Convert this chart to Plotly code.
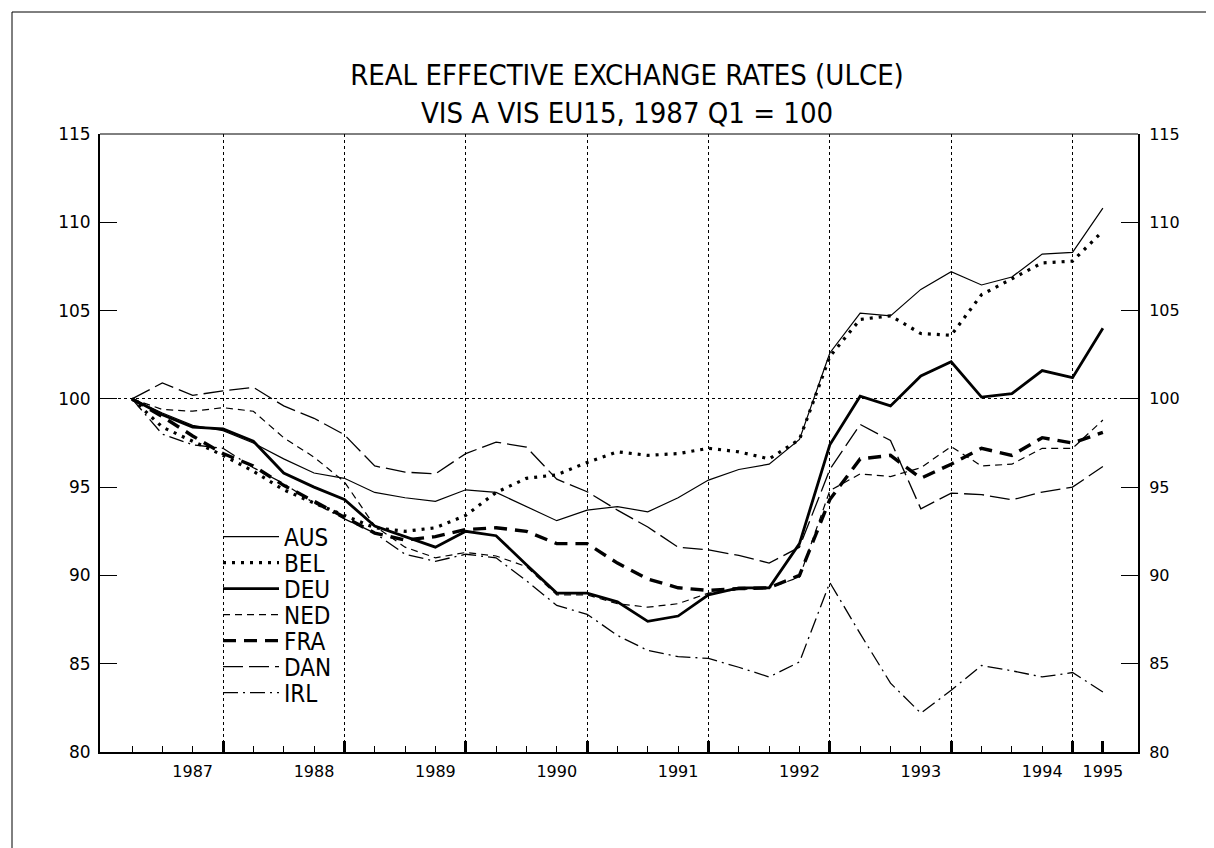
import plotly.graph_objects as go

# quarter index: 0 = 1987 Q1 ... 32 = 1995 Q1
quarters = list(range(33))

AUS = [100, 99.2, 98.5, 98.2, 97.5, 96.6, 95.8, 95.5, 94.7, 94.4, 94.2, 94.85, 94.7, 93.9, 93.1, 93.7,
       93.9, 93.6, 94.4, 95.4, 96.0, 96.3, 97.7, 102.6, 104.85, 104.7, 106.2, 107.2, 106.45, 106.9, 108.2, 108.3, 110.8]
BEL = [100, 98.4, 97.6, 96.8, 95.9, 94.85, 94.1, 93.4, 92.7, 92.5, 92.7, 93.4, 94.7, 95.5, 95.7, 96.4,
       97.0, 96.8, 96.9, 97.2, 97.0, 96.6, 97.7, 102.4, 104.5, 104.7, 103.7, 103.6, 105.9, 106.8, 107.7, 107.8, 109.5]
DEU = [100, 99.1, 98.4, 98.3, 97.6, 95.8, 95.0, 94.3, 92.8, 92.2, 91.6, 92.5, 92.25, 90.6, 89.0, 89.0,
       88.5, 87.4, 87.7, 88.9, 89.3, 89.3, 91.8, 97.4, 100.15, 99.6, 101.3, 102.1, 100.1, 100.3, 101.6, 101.2, 104.0]
NED = [100, 99.4, 99.3, 99.5, 99.3, 97.8, 96.7, 95.3, 92.8, 91.6, 91.0, 91.3, 91.1, 90.5, 88.9, 88.9,
       88.4, 88.2, 88.4, 89.0, 89.2, 89.3, 89.9, 94.8, 95.75, 95.6, 96.1, 97.3, 96.2, 96.3, 97.2, 97.2, 98.8]
FRA = [100, 99.0, 97.9, 96.9, 96.2, 95.1, 94.2, 93.3, 92.4, 92.0, 92.2, 92.6, 92.7, 92.5, 91.8, 91.8,
       90.7, 89.8, 89.3, 89.15, 89.25, 89.3, 90.0, 94.3, 96.6, 96.8, 95.5, 96.3, 97.2, 96.8, 97.8, 97.5, 98.1]
DAN = [100, 100.9, 100.2, 100.45, 100.65, 99.6, 98.9, 97.97, 96.2, 95.85, 95.75, 96.9, 97.55, 97.27, 95.45, 94.74,
       93.7, 92.74, 91.6, 91.45, 91.13, 90.7, 91.6, 96.0, 98.55, 97.64, 93.77, 94.66, 94.58, 94.28, 94.72, 95.0, 96.17]
IRL = [100, 98.0, 97.4, 97.2, 96.1, 95.2, 94.1, 93.2, 92.4, 91.2, 90.8, 91.2, 91.0, 89.7, 88.3, 87.8,
       86.6, 85.75, 85.4, 85.3, 84.8, 84.25, 85.1, 89.6, 86.7, 83.9, 82.2, 83.5, 84.9, 84.6, 84.25, 84.5, 83.4]

series_names = ["AUS", "BEL", "DEU", "NED", "FRA", "DAN", "IRL"]
series_values = [AUS, BEL, DEU, NED, FRA, DAN, IRL]

year_label_pos = [2, 6, 10, 14, 18, 22, 26, 30, 32]
year_labels = ["1987", "1988", "1989", "1990", "1991", "1992", "1993", "1994", "1995"]
major_tick_pos = [3, 7, 11, 15, 19, 23, 27, 31]
end_tick_pos = [32]
y_ticks = [80, 85, 90, 95, 100, 105, 110, 115]

styles = {
    "AUS": dict(width=1.2, dash="solid"),
    "BEL": dict(width=3.2, dash="3px,6px"),
    "DEU": dict(width=2.8, dash="solid"),
    "NED": dict(width=1.2, dash="7px,5px"),
    "FRA": dict(width=3.4, dash="13px,8px"),
    "DAN": dict(width=1.3, dash="20px,6px"),
    "IRL": dict(width=1.3, dash="15px,5px,2px,5px"),
}

TXT_FONT = "DejaVu Sans Condensed, Liberation Sans Narrow, DejaVu Sans, sans-serif"
NUM_FONT = "DejaVu Sans, sans-serif"

W, H = 1214, 848
L, R, T, B = 92, 1130, 126, 744
xr = [(L - 124) / 30.34, (R - 124) / 30.34]

fig = go.Figure()
legend_layout = {}
for k, (name, vals) in enumerate(zip(series_names, series_values)):
    lg = "legend" if k == 0 else f"legend{k + 1}"
    fig.add_trace(go.Scatter(x=quarters, y=vals, mode="lines", name=name, legend=lg,
                             line=dict(color="black", **styles[name]), hoverinfo="skip"))
    ypix = 529 + 26 * k
    legend_layout[lg] = dict(x=(210 - L) / (R - L), xanchor="left",
                             y=(B - ypix) / (B - T), yanchor="middle",
                             bgcolor="rgba(0,0,0,0)", borderwidth=0, itemwidth=56,
                             font=dict(family=TXT_FONT, size=24, color="black"))

# invisible helper trace so the overlay axes (right axis / major ticks) render
fig.add_trace(go.Scatter(x=quarters, y=AUS, mode="lines", xaxis="x2", yaxis="y2",
                         line=dict(color="rgba(0,0,0,0)", width=0), showlegend=False, hoverinfo="skip"))

fig.update_layout(
    width=W, height=H,
    margin=dict(l=L, r=W - R, t=T, b=H - B),
    paper_bgcolor="white", plot_bgcolor="white",
    title=dict(text="REAL EFFECTIVE EXCHANGE RATES (ULCE)<br>VIS A VIS EU15, 1987 Q1 = 100",
               x=619 / W, xanchor="center", xref="container",
               y=1 - 77 / H, yanchor="middle", yref="container",
               font=dict(family=TXT_FONT, size=29, color="black")),
    showlegend=True,
    xaxis=dict(range=xr, tickvals=year_label_pos, ticktext=year_labels, ticks="",
               showgrid=False, zeroline=False, showline=True, linecolor="black", linewidth=2,
               tickfont=dict(family=NUM_FONT, size=16, color="black"), ticklabelstandoff=4,
               minor=dict(tickvals=quarters, ticks="inside", ticklen=6, tickwidth=1,
                          tickcolor="black", showgrid=False)),
    xaxis2=dict(range=xr, overlaying="x", side="bottom", anchor="y",
                tickvals=major_tick_pos, ticks="inside", ticklen=11, tickwidth=3, tickcolor="black",
                showticklabels=False, showgrid=True, gridcolor="black", gridwidth=1.3, griddash="dot",
                zeroline=False, showline=False,
                minor=dict(tickvals=end_tick_pos, ticks="inside", ticklen=11, tickwidth=3,
                           tickcolor="black", showgrid=False)),
    yaxis=dict(range=[80, 115], tickvals=y_ticks, ticks="inside", ticklen=17, tickwidth=1,
               tickcolor="black", showgrid=False, zeroline=False, showline=True,
               linecolor="black", linewidth=2,
               tickfont=dict(family=NUM_FONT, size=17, color="black"), ticklabelstandoff=4,
               minor=dict(tickvals=[100], ticks="", showgrid=True, gridcolor="black",
                          gridwidth=1.3, griddash="dot")),
    yaxis2=dict(range=[80, 115], overlaying="y", side="right", anchor="x",
                tickvals=y_ticks, ticks="inside", ticklen=17, tickwidth=1, tickcolor="black",
                showgrid=False, zeroline=False, showline=True, linecolor="black", linewidth=2,
                tickfont=dict(family=NUM_FONT, size=16, color="black"), ticklabelstandoff=6),
    **legend_layout,
)

# top border of the plot box and outer frame
fig.add_shape(type="line", xref="paper", yref="paper", x0=0, x1=1, y0=1, y1=1,
              line=dict(color="black", width=1))
fig.add_shape(type="rect", xref="paper", yref="paper",
              x0=(4 - L) / (R - L), x1=(1209 - L) / (R - L),
              y0=(B - 844) / (B - T), y1=(B - 4) / (B - T),
              line=dict(color="black", width=1))

fig.write_html("out.html")
